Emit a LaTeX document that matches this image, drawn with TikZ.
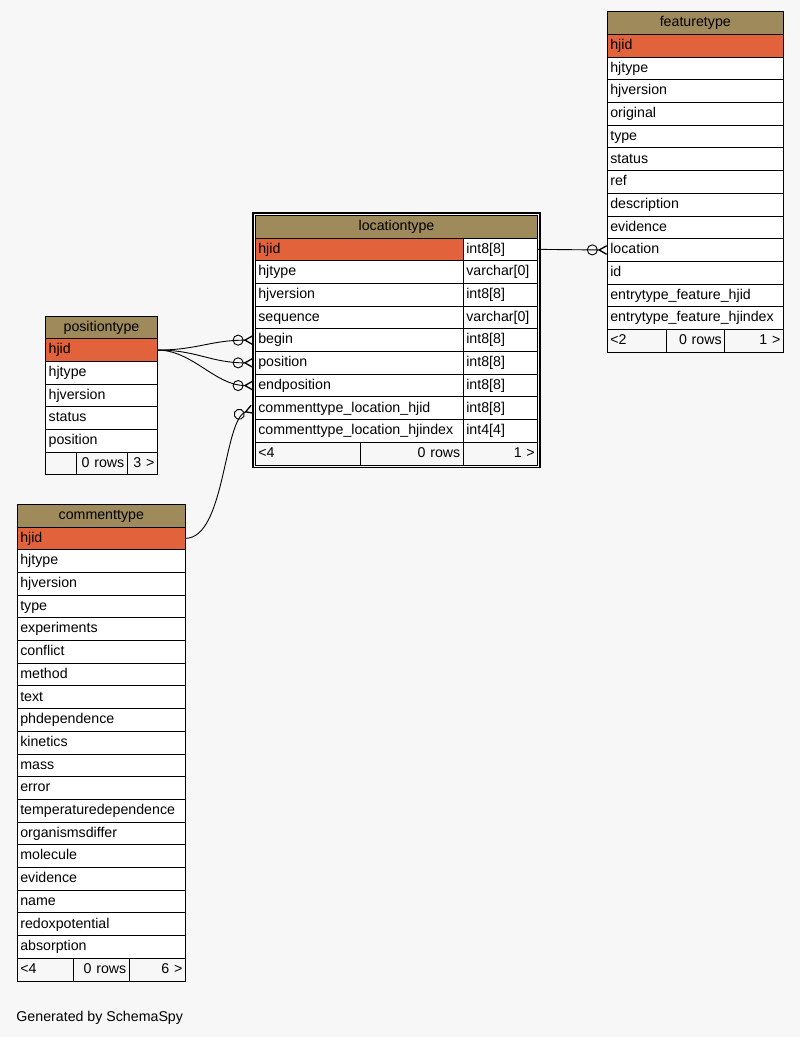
\documentclass[tikz,border=0pt]{standalone}
\usepackage{fontspec}
\setmainfont{Liberation Sans}
\usetikzlibrary{positioning, fit, arrows.meta}
\definecolor{headbrown}{HTML}{9F8A5B}
\definecolor{pkred}{HTML}{E2623B}
\definecolor{bggray}{HTML}{F7F7F7}
\tikzset{
  cell/.style={draw, fill=white, minimum height=22.7pt, inner xsep=3pt, inner ysep=0pt,
    outer sep=0pt, text height=10.5pt, text depth=3pt, align=left},
  headcell/.style={cell, fill=headbrown, align=center},
  keycell/.style={cell, fill=pkred},
  footcell/.style={cell, fill=bggray, align=right},
  crowfoot/.style={-{Circle[open,length=11pt,width=11pt] Straight Barb[reversed,length=7.5pt,width=8.5pt,line width=1.3pt]}},
}
\begin{document}
\begin{tikzpicture}[x=1pt,y=-1pt,line width=0.9pt,font=\fontsize{14.2}{17}\selectfont]
  % background
  \fill[bggray] (0,0) rectangle (800,1037);

  % featuretype
  \node[headcell, text width=170pt, anchor=north west] (fea0) at (607.3,11.7) {featuretype};
  \node[keycell, text width=170pt, below=0pt of fea0] (fea1) {hjid};
  \foreach \fld [count=\i from 2, remember=\i as \j (initially 1)] in {hjtype,hjversion,original,type,status,ref,description,evidence,location,id,entrytype\_feature\_hjid,entrytype\_feature\_hjindex}
    \node[cell, text width=170pt, below=0pt of fea\j] (fea\i) {\fld};
  \node[footcell, text width=52.7pt, align=left, anchor=north west] (feaf1) at (fea13.south west) {<2};
  \node[footcell, text width=52.7pt, right=0pt of feaf1] (feaf2) {0 rows};
  \node[footcell, text width=52.6pt, right=0pt of feaf2] (feaf3) {1 >};

  % locationtype
  \node[headcell, text width=276.4pt, anchor=north west] (loc0) at (255.3,215.3) {locationtype};
  \node[keycell, text width=202pt, anchor=north west] (loc1) at (loc0.south west) {hjid};
  \node[cell, text width=68.4pt, right=0pt of loc1] (loc1-t) {int8[8]};
  \foreach \fld/\ty [count=\i from 2, remember=\i as \j (initially 1)] in {hjtype/varchar[0],hjversion/int8[8],sequence/varchar[0],begin/int8[8],position/int8[8],endposition/int8[8],commenttype\_location\_hjid/int8[8],commenttype\_location\_hjindex/int4[4]}{
    \node[cell, text width=202pt, below=0pt of loc\j] (loc\i) {\fld};
    \node[cell, text width=68.4pt, right=0pt of loc\i] (loc\i-t) {\ty};
  }
  \node[footcell, text width=99pt, align=left, anchor=north west] (locf1) at (loc9.south west) {<4};
  \node[footcell, text width=97pt, right=0pt of locf1] (locf2) {0 rows};
  \node[footcell, text width=68.4pt, right=0pt of locf2] (locf3) {1 >};
  \node[draw, fit=(loc0)(locf3), inner sep=2.2pt, line width=1.3pt] (locframe) {};

  % positiontype
  \node[headcell, text width=105.6pt, anchor=north west] (pos0) at (45.7,316) {positiontype};
  \node[keycell, text width=105.6pt, below=0pt of pos0] (pos1) {hjid};
  \foreach \fld [count=\i from 2, remember=\i as \j (initially 1)] in {hjtype,hjversion,status,position}
    \node[cell, text width=105.6pt, below=0pt of pos\j] (pos\i) {\fld};
  \node[footcell, text width=24.6pt, anchor=north west] (posf1) at (pos5.south west) {};
  \node[footcell, text width=45pt, right=0pt of posf1] (posf2) {0 rows};
  \node[footcell, text width=24pt, right=0pt of posf2] (posf3) {3 >};

  % commenttype
  \node[headcell, text width=162pt, anchor=north west] (com0) at (17.3,504.3) {commenttype};
  \node[keycell, text width=162pt, below=0pt of com0] (com1) {hjid};
  \foreach \fld [count=\i from 2, remember=\i as \j (initially 1)] in {hjtype,hjversion,type,experiments,conflict,method,text,phdependence,kinetics,mass,error,temperaturedependence,organismsdiffer,molecule,evidence,name,redoxpotential,absorption}
    \node[cell, text width=162pt, below=0pt of com\j] (com\i) {\fld};
  \node[footcell, text width=50pt, align=left, anchor=north west] (comf1) at (com19.south west) {<4};
  \node[footcell, text width=50pt, right=0pt of comf1] (comf2) {0 rows};
  \node[footcell, text width=50pt, right=0pt of comf2] (comf3) {6 >};

  % relations
  \draw[crowfoot] (loc1-t.east) -- (fea10.west);
  \draw[crowfoot, shorten >=2.2pt] (pos1.east) .. controls +(40,0) and +(-45,0) .. (loc5.west);
  \draw[crowfoot, shorten >=2.2pt] (pos1.east) .. controls +(40,0) and +(-45,0) .. (loc6.west);
  \draw[crowfoot, shorten >=2.2pt] (pos1.east) .. controls +(35,0) and +(-40,0) .. (loc7.west);
  \draw[crowfoot, shorten >=2.2pt] (com1.east) .. controls +(40,0) and +(-32,12) .. (loc8.west);

  % footer text
  \node[anchor=west, inner sep=0pt] (credit) at (16,1018) {Generated by SchemaSpy};
\end{tikzpicture}
\end{document}
